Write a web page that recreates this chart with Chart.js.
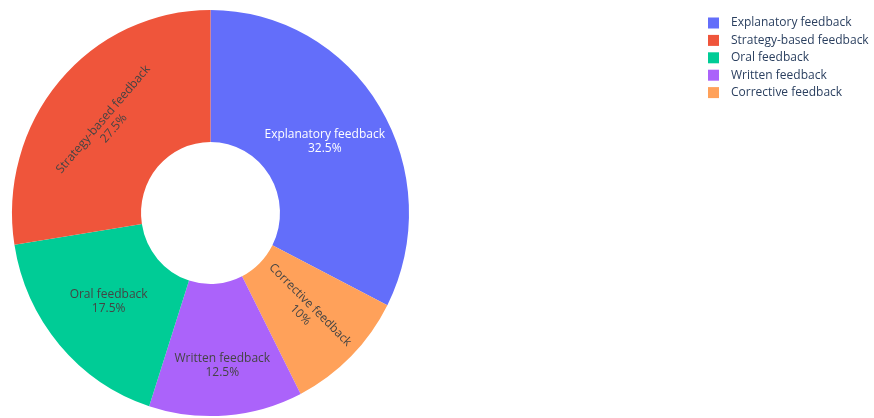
<!DOCTYPE html>
<html>
<head>
<meta charset="utf-8">
<script src="https://cdn.jsdelivr.net/npm/chart.js@4.4.0/dist/chart.umd.min.js"></script>
<style>
  html, body { margin: 0; padding: 0; background: #fff; }
  #wrap { position: relative; width: 874px; height: 418px; }
</style>
</head>
<body>
<div id="wrap"><canvas id="chart" width="874" height="418"></canvas></div>
<script>
// Data (slices listed clockwise from 12 o'clock)
const categories = ['Explanatory feedback', 'Corrective feedback', 'Written feedback', 'Oral feedback', 'Strategy-based feedback'];
const shares = [32.5, 10, 12.5, 17.5, 27.5];
const sliceColors = ['#636efa', '#FFA15A', '#ab63fa', '#00cc96', '#EF553B'];
const legendOrder = ['Explanatory feedback', 'Strategy-based feedback', 'Oral feedback', 'Written feedback', 'Corrective feedback'];
// How each inside label is oriented
const labelOrientation = ['horizontal', 'radial', 'horizontal', 'horizontal', 'tangential'];

const FONT = '"Open Sans", verdana, arial, sans-serif';
const STRETCH_Y = 1.023; // the reference pie is slightly taller than wide

// stretch the pie vertically a bit around its centre
const stretchPie = {
    id: 'stretchPie',
    beforeDatasetsDraw(chart) {
        const a = chart.chartArea;
        const cx = (a.left + a.right) / 2, cy = (a.top + a.bottom) / 2;
        chart.ctx.save();
        chart.ctx.translate(cx, cy);
        chart.ctx.scale(1, STRETCH_Y);
        chart.ctx.translate(-cx, -cy);
    },
    afterDatasetsDraw(chart) {
        chart.ctx.restore();
    }
};

// Draw text labels inside slices, plotly style
const sliceLabels = {
    id: 'sliceLabels',
    afterDatasetsDraw(chart) {
        const ctx = chart.ctx;
        const meta = chart.getDatasetMeta(0);
        const total = shares.reduce((a, b) => a + b, 0);
        ctx.save();
        ctx.font = '12px ' + FONT;
        ctx.textAlign = 'center';
        ctx.textBaseline = 'middle';
        meta.data.forEach((arc, i) => {
            const p = arc.getProps(['x', 'y', 'startAngle', 'endAngle', 'innerRadius', 'outerRadius'], true);
            const mid = (p.startAngle + p.endAngle) / 2;
            const span = p.endAngle - p.startAngle;
            const pct = Math.round(shares[i] / total * 1000) / 10 + '%';
            const tw = ctx.measureText(categories[i]).width;
            let r = (p.innerRadius + p.outerRadius) / 2;
            const orient = labelOrientation[i];
            if (orient === 'horizontal') {
                r = Math.max(r, tw * 0.6 / Math.sin(span / 2));
            }
            const x = p.x + r * Math.cos(mid);
            const y = p.y + r * Math.sin(mid) * STRETCH_Y;
            // angle measured clockwise from top
            const theta = mid + Math.PI / 2;
            let rot = 0;
            if (orient === 'tangential') rot = theta;
            if (orient === 'radial') rot = theta - Math.PI / 2;
            while (rot > Math.PI / 2) rot -= Math.PI;
            while (rot < -Math.PI / 2) rot += Math.PI;
            ctx.save();
            ctx.translate(x, y);
            ctx.rotate(rot);
            ctx.fillStyle = i === 0 ? '#ffffff' : '#444444';
            ctx.fillText(categories[i], 0, -7);
            ctx.fillText(pct, 0, 7);
            ctx.restore();
        });
        ctx.restore();
    }
};

// Legend drawn at the right like plotly
const sideLegend = {
    id: 'sideLegend',
    afterDraw(chart) {
        const ctx = chart.ctx;
        ctx.save();
        ctx.font = '12px ' + FONT;
        ctx.textAlign = 'left';
        ctx.textBaseline = 'middle';
        legendOrder.forEach((name, k) => {
            const i = categories.indexOf(name);
            const y = 23 + k * 17.4;
            ctx.fillStyle = sliceColors[i];
            ctx.fillRect(708, y - 5.5, 11, 11);
            ctx.fillStyle = '#2a3f5f';
            ctx.fillText(name, 731, y);
        });
        ctx.restore();
    }
};

new Chart(document.getElementById('chart').getContext('2d'), {
    type: 'doughnut',
    data: {
        labels: categories,
        datasets: [{
            data: shares,
            backgroundColor: sliceColors,
            borderWidth: 0
        }]
    },
    options: {
        responsive: false,
        animation: false,
        cutout: '35%',
        layout: {
            padding: { top: 14.5, bottom: 6.5, left: 12, right: 465 }
        },
        plugins: {
            legend: { display: false },
            tooltip: { enabled: false }
        }
    },
    plugins: [stretchPie, sliceLabels, sideLegend]
});
</script>
</body>
</html>
